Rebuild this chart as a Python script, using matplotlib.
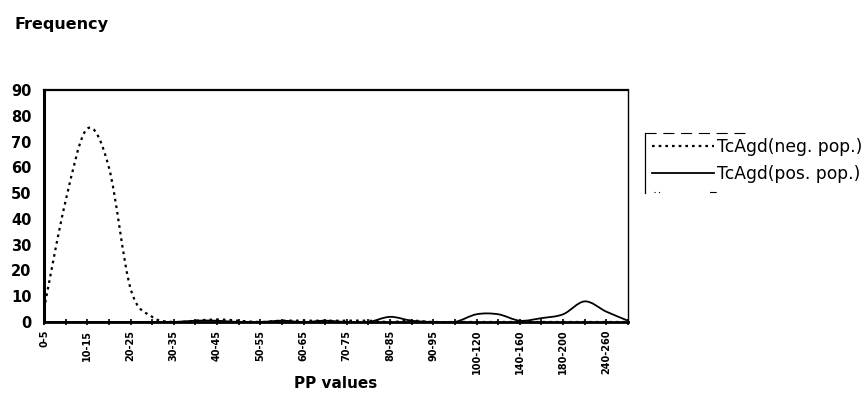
import numpy as np
import matplotlib
matplotlib.use('Agg')
import matplotlib.pyplot as plt
from matplotlib.path import Path
from matplotlib.patches import PathPatch
from matplotlib.lines import Line2D

plt.rcParams['font.family'] = ['DejaVu Sans']

# PP value classes (only every other one is labelled on the axis)
categories = ['0-5', '5-10', '10-15', '15-20', '20-25', '25-30', '30-35', '35-40',
              '40-45', '45-50', '50-55', '55-60', '60-65', '65-70', '70-75', '75-80',
              '80-85', '85-90', '90-95', '95-100', '100-120', '120-140', '140-160',
              '160-180', '180-200', '200-240', '240-260', '>260']
neg_pop = [5, 47, 75, 60, 13, 2, 0, 0.5, 1, 0.5, 0, 0.5, 0.5, 0.5, 0.5, 0.5,
           0, 0.5, 0, 0, 0, 0, 0, 0, 0, 0, 0, 0]
pos_pop = [0, 0, 0, 0, 0, 0, 0, 0.5, 0.5, 0, 0, 0.5, 0, 0.5, 0, 0,
           2, 0.5, 0, 0, 3, 3, 0.5, 1.5, 3, 8, 4, 0.5]
series_labels = ['TcAgd(neg. pop.)', 'TcAgd(pos. pop.)']


def smooth_path(x, y):
    """Bezier path through the points, spreadsheet-style smoothing."""
    pts = np.column_stack([x, y]).astype(float)
    n = len(pts)
    verts = [pts[0]]
    codes = [Path.MOVETO]
    for i in range(n - 1):
        p0 = pts[max(i - 1, 0)]
        p1 = pts[i]
        p2 = pts[i + 1]
        p3 = pts[min(i + 2, n - 1)]
        c1 = p1 + (p2 - p0) / 6.0
        c2 = p2 - (p3 - p1) / 6.0
        verts += [c1, c2, p2]
        codes += [Path.CURVE4] * 3
    return Path(verts, codes)


W, H = 867, 395
fig = plt.figure(figsize=(W / 100, H / 100), dpi=100)
ax = fig.add_axes([44 / W, 1 - 322 / H, (628 - 44) / W, (322 - 90) / H])

x = np.arange(len(categories))
neg_style = dict(color='black', lw=1.6, linestyle=(0, (1.2, 1.8)))
pos_style = dict(color='black', lw=1.3, linestyle='-')

ax.add_patch(PathPatch(smooth_path(x, neg_pop), fill=False, **neg_style))
ax.add_patch(PathPatch(smooth_path(x, pos_pop), fill=False, **pos_style))

ax.set_xlim(0, len(categories) - 1)
ax.set_ylim(0, 90)
ax.set_yticks(np.arange(0, 91, 10))
ax.tick_params(axis='y', length=0, pad=9, labelsize=10.5)
for lab in ax.get_yticklabels():
    lab.set_fontweight('bold')

ax.set_xticks(x)
ax.set_xticklabels([c if i % 2 == 0 else '' for i, c in enumerate(categories)],
                   rotation=90, fontsize=7, fontweight='bold')
ax.tick_params(axis='x', direction='inout', length=5, width=1.2, pad=3)

for side, lw in [('left', 2.2), ('bottom', 2.0), ('top', 1.6), ('right', 1.0)]:
    ax.spines[side].set_linewidth(lw)

# axis titles
fig.text(336 / W, 1 - 383 / H, 'PP values', fontsize=11, fontweight='bold',
         va='center', ha='center')
fig.text(15 / W, 1 - 24 / H, 'Frequency', fontsize=11.5, fontweight='bold',
         va='center', ha='left')

# legend: text rows with sample lines, open frame on the left
handles = [Line2D([], [], **neg_style), Line2D([], [], **pos_style)]
fig.legend(handles, series_labels, loc='upper left',
           bbox_to_anchor=(649 / W, 1 - 135 / H), frameon=False,
           fontsize=12.3, handlelength=3.6, handletextpad=0.2,
           labelspacing=0.5, borderpad=0.2, borderaxespad=0)
fig.add_artist(Line2D([645 / W, 645 / W], [1 - 133 / H, 1 - 193 / H],
                      transform=fig.transFigure, color='black', lw=0.9))
fig.add_artist(Line2D([645 / W, 750 / W], [1 - 133 / H, 1 - 133 / H],
                      transform=fig.transFigure, color='black', lw=0.8,
                      linestyle=(0, (10, 6))))
fig.add_artist(Line2D([654 / W, 736 / W], [1 - 192 / H, 1 - 192 / H],
                      transform=fig.transFigure, color='black', lw=0.8,
                      linestyle=(0, (1, 3, 1, 45, 6, 20))))

fig.savefig('out.png', dpi=100)
